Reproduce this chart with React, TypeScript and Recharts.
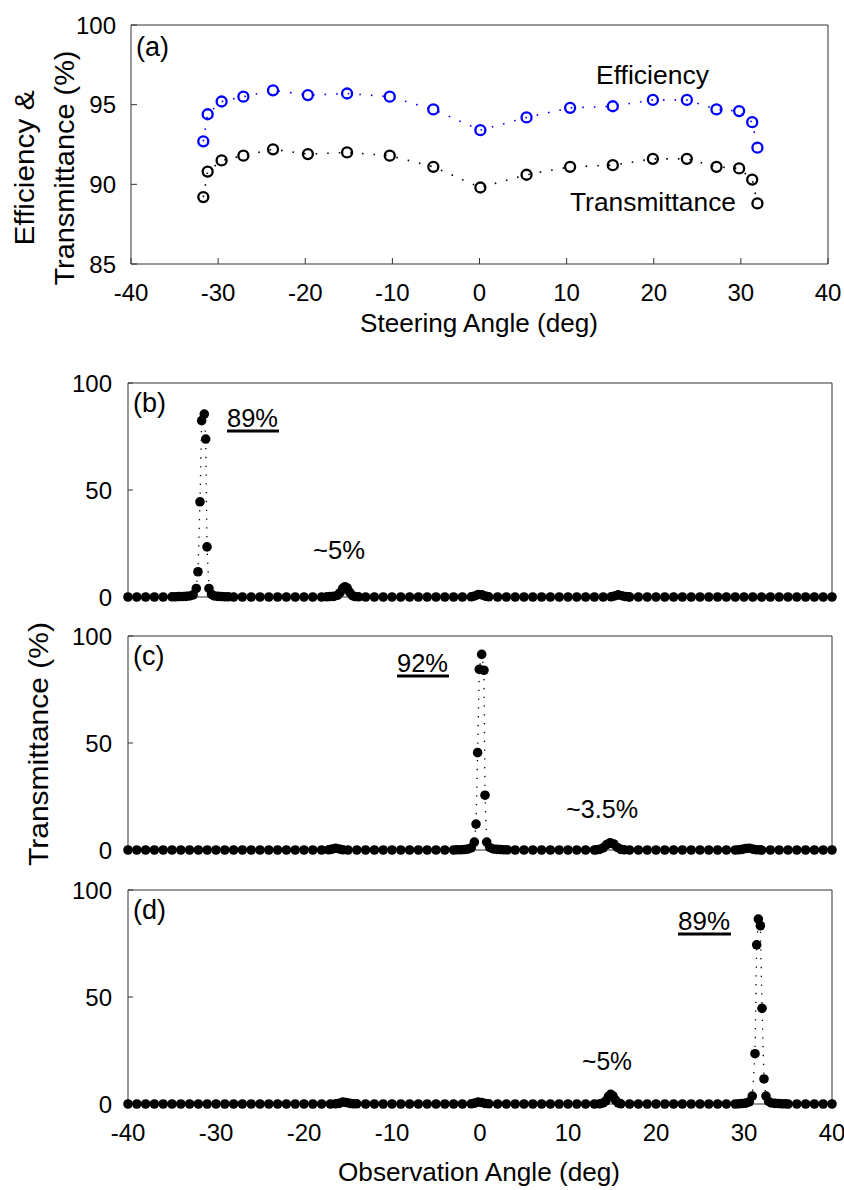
import { Line, LineChart, XAxis, YAxis } from "recharts";

const FONT = '"Liberation Sans", Arial, Helvetica, sans-serif';
const FRAME = "#333";

// (a) efficiency / transmittance vs steering angle
const steeringAngles = [
  -31.7, -31.2, -29.6, -27.1, -23.7, -19.7, -15.2, -10.3, -5.3, 0.1, 5.4,
  10.4, 15.3, 19.9, 23.8, 27.2, 29.8, 31.3, 31.9,
];
const efficiency = [
  92.7, 94.4, 95.2, 95.5, 95.9, 95.6, 95.7, 95.5, 94.7, 93.4, 94.2, 94.8,
  94.9, 95.3, 95.3, 94.7, 94.6, 93.9, 92.3,
];
const transmittance = [
  89.2, 90.8, 91.5, 91.8, 92.2, 91.9, 92.0, 91.8, 91.1, 89.8, 90.6, 91.1,
  91.2, 91.6, 91.6, 91.1, 91.0, 90.3, 88.8,
];
const steerTicks = [-40, -30, -20, -10, 0, 10, 20, 30, 40];
const effTicks = [85, 90, 95, 100];

// (b)-(d) far-field transmittance vs observation angle
const obsAngles = [
  -40, -39, -38, -37, -36, -35, -34, -33, -32, -31, -30, -29, -28, -27, -26,
  -25, -24, -23, -22, -21, -20, -19, -18, -17, -16, -15, -14, -13, -12, -11,
  -10, -9, -8, -7, -6, -5, -4, -3, -2, -1, 0, 1, 2, 3, 4, 5, 6, 7, 8, 9, 10,
  11, 12, 13, 14, 15, 16, 17, 18, 19, 20, 21, 22, 23, 24, 25, 26, 27, 28, 29,
  30, 31, 32, 33, 34, 35, 36, 37, 38, 39, 40,
];
const obsTicks = [-40, -20, 0, 20, 40];
const obsLabelTicks = [-40, -30, -20, -10, 0, 10, 20, 30, 40];
const pctTicks = [0, 50, 100];

type Pt = [number, number];

const bPeak: Pt[] = [
  [-35.0, 0.1], [-34.6, 0.1], [-34.2, 0.2], [-33.8, 0.2], [-33.4, 0.3],
  [-33.0, 0.5], [-32.6, 1.0], [-32.24, 4.0], [-32.05, 11.8], [-31.82, 44.5],
  [-31.63, 82.4], [-31.33, 85.5], [-31.17, 73.8], [-31.02, 23.4], [-30.8, 4.0],
  [-30.5, 1.2], [-30.2, 0.5], [-29.8, 0.3], [-29.4, 0.2], [-29.0, 0.1],
  [-28.6, 0.1],
];
const bLobe1: Pt[] = [
  [-17.4, 0.1], [-17.0, 0.2], [-16.6, 0.3], [-16.2, 0.8], [-15.9, 2.0],
  [-15.6, 4.0], [-15.34, 4.8], [-15.1, 4.2], [-14.8, 2.2], [-14.5, 0.6],
  [-14.2, 0.2], [-13.8, 0.1],
];
const bLobe2: Pt[] = [
  [-1.0, 0.1], [-0.6, 0.5], [-0.2, 1.2], [0.2, 1.0], [0.6, 0.4], [1.0, 0.1],
];
const bLobe3: Pt[] = [
  [14.9, 0.1], [15.3, 0.5], [15.7, 1.0], [16.1, 0.6], [16.5, 0.2], [16.9, 0.1],
];

const cLobe1: Pt[] = [
  [-17.2, 0.1], [-16.8, 0.4], [-16.4, 0.8], [-16.0, 0.5], [-15.6, 0.1],
];
const cPeak: Pt[] = [
  [-2.6, 0.1], [-2.2, 0.1], [-1.8, 0.2], [-1.4, 0.4], [-1.0, 1.0],
  [-0.64, 3.7], [-0.45, 12.1], [-0.27, 45.5], [-0.08, 84.4], [0.19, 91.4],
  [0.45, 84.0], [0.57, 25.6], [0.76, 3.7], [1.1, 1.2], [1.5, 0.5],
  [1.9, 0.3], [2.3, 0.2], [2.7, 0.1], [3.1, 0.1],
];
const cLobe2: Pt[] = [
  [13.2, 0.1], [13.6, 0.3], [14.0, 1.0], [14.4, 2.5], [14.8, 3.4],
  [15.2, 2.8], [15.6, 1.2], [16.0, 0.3], [16.4, 0.1],
];
const cLobe3: Pt[] = [
  [29.4, 0.1], [29.8, 0.3], [30.2, 0.7], [30.6, 0.8], [31.0, 0.4],
  [31.4, 0.1], [31.8, 0.1],
];

const dLobe1: Pt[] = [
  [-16.4, 0.1], [-16.0, 0.3], [-15.6, 0.9], [-15.2, 0.7], [-14.8, 0.3],
  [-14.4, 0.1], [-14.0, 0.1],
];
const dLobe2: Pt[] = [
  [-1.0, 0.1], [-0.6, 0.4], [-0.2, 0.9], [0.2, 0.7], [0.6, 0.2], [1.0, 0.1],
];
const dLobe3: Pt[] = [
  [13.6, 0.1], [14.0, 0.5], [14.3, 1.5], [14.6, 3.5], [14.85, 4.5],
  [15.1, 3.8], [15.4, 1.8], [15.7, 0.5], [16.0, 0.1],
];
const dPeak: Pt[] = [
  [29.4, 0.1], [29.8, 0.2], [30.2, 0.4], [30.6, 1.0], [30.94, 3.7],
  [31.25, 23.5], [31.44, 74.4], [31.63, 86.4], [31.86, 83.3], [32.05, 44.7],
  [32.27, 11.7], [32.5, 3.7], [32.8, 1.2], [33.1, 0.5], [33.5, 0.3],
  [33.9, 0.2], [34.3, 0.1], [34.7, 0.1],
];

// zero baseline on the 1 deg grid, finer samples around each lobe
function buildProfile(groups: Pt[][]) {
  const base: Pt[] = obsAngles
    .filter(
      (a) => !groups.some((g) => a >= g[0][0] && a <= g[g.length - 1][0])
    )
    .map((a) => [a, 0]);
  return [...base, ...groups.flat()]
    .sort((p, q) => p[0] - q[0])
    .map(([x, y]) => ({ x, y }));
}

const steeringData = steeringAngles.map((angle, i) => ({
  angle,
  eff: efficiency[i],
  trans: transmittance[i],
}));
const dataB = buildProfile([bPeak, bLobe1, bLobe2, bLobe3]);
const dataC = buildProfile([cLobe1, cPeak, cLobe2, cLobe3]);
const dataD = buildProfile([dLobe1, dLobe2, dLobe3, dPeak]);

const tickStyle = { fill: "#000", fontSize: 24, fontFamily: FONT };

function SteeringPanel() {
  return (
    <LineChart
      width={844}
      height={345}
      data={steeringData}
      margin={{ top: 0, right: 15, bottom: 0, left: 0 }}
    >
      <XAxis
        type="number"
        dataKey="angle"
        domain={[-40, 40]}
        ticks={steerTicks}
        interval={0}
        height={81}
        tickSize={-6}
        tickMargin={26}
        tick={tickStyle}
        stroke={FRAME}
      />
      <XAxis
        xAxisId="top"
        orientation="top"
        type="number"
        domain={[-40, 40]}
        ticks={steerTicks}
        interval={0}
        height={25}
        tickSize={-6}
        tick={false}
        stroke={FRAME}
        allowDataOverflow
      />
      <YAxis
        type="number"
        domain={[85, 100]}
        ticks={effTicks}
        interval={0}
        width={131}
        tickSize={-6}
        tickMargin={21}
        tick={tickStyle}
        stroke={FRAME}
      />
      <YAxis
        yAxisId="right"
        orientation="right"
        type="number"
        domain={[85, 100]}
        ticks={effTicks}
        interval={0}
        width={1}
        tickSize={-6}
        tick={false}
        stroke={FRAME}
        allowDataOverflow
      />
      <Line
        dataKey="eff"
        type="linear"
        stroke="#0000ff"
        strokeWidth={1.6}
        strokeDasharray="1.6 10"
        dot={{ r: 5, fill: "none", stroke: "#0000ff", strokeWidth: 2.3, strokeDasharray: "none" }}
        isAnimationActive={false}
      />
      <Line
        dataKey="trans"
        type="linear"
        stroke="#000"
        strokeWidth={1.6}
        strokeDasharray="1.6 10"
        dot={{ r: 5, fill: "none", stroke: "#000", strokeWidth: 2.3, strokeDasharray: "none" }}
        isAnimationActive={false}
      />
    </LineChart>
  );
}

function ObservationPanel({
  data,
  showLabels,
}: {
  data: { x: number; y: number }[];
  showLabels: boolean;
}) {
  const bottomH = showLabels ? 50 : 20;
  return (
    <LineChart
      width={844}
      height={20 + 214 + bottomH}
      data={data}
      margin={{ top: 0, right: 11, bottom: 0, left: 0 }}
    >
      <XAxis
        type="number"
        dataKey="x"
        domain={[-40, 40]}
        ticks={showLabels ? obsLabelTicks : obsTicks}
        interval={0}
        height={bottomH}
        tickSize={-5}
        tickMargin={25}
        tick={showLabels ? tickStyle : false}
        stroke={FRAME}
      />
      <XAxis
        xAxisId="top"
        orientation="top"
        type="number"
        domain={[-40, 40]}
        ticks={obsTicks}
        interval={0}
        height={20}
        tickSize={-5}
        tick={false}
        stroke={FRAME}
        allowDataOverflow
      />
      <YAxis
        type="number"
        domain={[0, 100]}
        ticks={pctTicks}
        interval={0}
        width={128}
        tickSize={-5}
        tickMargin={21}
        tick={tickStyle}
        stroke={FRAME}
      />
      <YAxis
        yAxisId="right"
        orientation="right"
        type="number"
        domain={[0, 100]}
        ticks={pctTicks}
        interval={0}
        width={1}
        tickSize={-5}
        tick={false}
        stroke={FRAME}
        allowDataOverflow
      />
      <Line
        dataKey="y"
        type="linear"
        stroke="#000"
        strokeWidth={1.3}
        strokeDasharray="1.3 7.5"
        dot={{ r: 4.8, fill: "#000", stroke: "none", strokeDasharray: "none" }}
        isAnimationActive={false}
      />
    </LineChart>
  );
}

const label = { fontFamily: FONT, fill: "#000" };

export default function App() {
  return (
    <div
      style={{
        position: "absolute",
        left: 0,
        top: 0,
        width: 844,
        height: 1190,
        background: "#fff",
      }}
    >
      <div style={{ position: "absolute", left: 0, top: 0 }}>
        <SteeringPanel />
      </div>
      <div style={{ position: "absolute", left: 0, top: 363 }}>
        <ObservationPanel data={dataB} showLabels={false} />
      </div>
      <div style={{ position: "absolute", left: 0, top: 616 }}>
        <ObservationPanel data={dataC} showLabels={false} />
      </div>
      <div style={{ position: "absolute", left: 0, top: 870 }}>
        <ObservationPanel data={dataD} showLabels />
      </div>

      <svg
        width={844}
        height={1190}
        style={{ position: "absolute", left: 0, top: 0, pointerEvents: "none" }}
      >
        <g style={label} fontSize={27}>
          <text x={136} y={56}>(a)</text>
          <text x={133} y={412}>(b)</text>
          <text x={133} y={665}>(c)</text>
          <text x={133} y={919}>(d)</text>
        </g>
        <g style={label} fontSize={25}>
          <text x={596} y={84} textLength={113} lengthAdjust="spacingAndGlyphs">
            Efficiency
          </text>
          <text x={570} y={211} textLength={166} lengthAdjust="spacingAndGlyphs">
            Transmittance
          </text>
          <text x={360} y={332} textLength={238} lengthAdjust="spacingAndGlyphs">
            Steering Angle (deg)
          </text>
          <text x={338} y={1181} textLength={282} lengthAdjust="spacingAndGlyphs">
            Observation Angle (deg)
          </text>

          <text x={227} y={427} textLength={51} lengthAdjust="spacingAndGlyphs">89%</text>
          <text x={313} y={559} textLength={52} lengthAdjust="spacingAndGlyphs">~5%</text>
          <text x={397} y={672} textLength={51} lengthAdjust="spacingAndGlyphs">92%</text>
          <text x={566} y={818} textLength={72} lengthAdjust="spacingAndGlyphs">~3.5%</text>
          <text x={678} y={930} textLength={52} lengthAdjust="spacingAndGlyphs">89%</text>
          <text x={582} y={1070} textLength={50} lengthAdjust="spacingAndGlyphs">~5%</text>
        </g>
        <g stroke="#000" strokeWidth={3}>
          <line x1={227} x2={279} y1={431} y2={431} />
          <line x1={397} x2={449} y1={676} y2={676} />
          <line x1={678} x2={731} y1={934} y2={934} />
        </g>
        <g style={label} fontSize={28} textAnchor="middle">
          <text transform="translate(34,168) rotate(-90)" textLength={155} lengthAdjust="spacingAndGlyphs">
            Efficiency &amp;
          </text>
          <text transform="translate(74,168) rotate(-90)" textLength={235} lengthAdjust="spacingAndGlyphs">
            Transmittance (%)
          </text>
          <text transform="translate(48,744) rotate(-90)" textLength={244} lengthAdjust="spacingAndGlyphs">
            Transmittance (%)
          </text>
        </g>
      </svg>
    </div>
  );
}
